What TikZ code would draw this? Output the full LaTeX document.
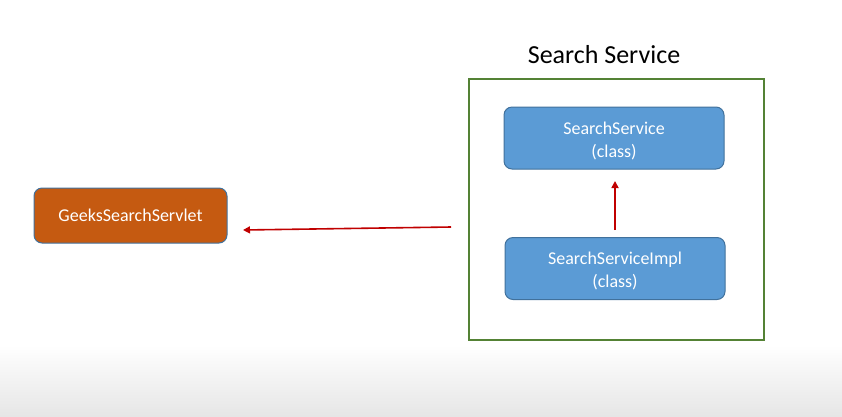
\documentclass[tikz,border=0pt]{standalone}
\usepackage{fontspec}
\setmainfont{Carlito}
\usetikzlibrary{arrows.meta}
\definecolor{servletfill}{HTML}{C55A11}
\definecolor{classfill}{HTML}{5B9BD5}
\definecolor{classborder}{HTML}{41719C}
\definecolor{framegreen}{HTML}{548235}
\definecolor{arrowred}{HTML}{C00000}
\definecolor{floorgray}{HTML}{E6E6E6}
\tikzset{
  servletbox/.style={draw=classborder, line width=1pt, fill=servletfill, rounded corners=8pt,
    minimum width=193pt, minimum height=55pt, text=white, font=\fontsize{18}{22}\selectfont, inner sep=0pt},
  classbox/.style={draw=classborder, line width=1pt, fill=classfill, rounded corners=8pt,
    minimum width=220pt, minimum height=62pt, text=white, font=\fontsize{18}{23}\selectfont,
    align=center, inner sep=0pt},
  frame/.style={draw=framegreen, line width=2.5pt},
  link/.style={draw=arrowred, line width=1.6pt, -{Triangle[length=7pt,width=7pt]}},
  titletext/.style={font=\fontsize{26}{30}\selectfont, text=black}
}
\begin{document}
\begin{tikzpicture}[x=1pt,y=-1pt]
\useasboundingbox (0,0) rectangle (842,416);
\shade[top color=white, bottom color=floorgray] (0,345) rectangle (842,416);
\node[frame, minimum width=295pt, minimum height=261pt, inner sep=0pt] (svc) at (616.5,209.5) {};
\node[titletext] (title) at (604,55) {Search Service};
\node[servletbox] (servlet) at (130.5,215.5) {GeeksSearchServlet};
\node[classbox] (ss) at (614,138) {};
\node[text=white, font=\fontsize{18}{23}\selectfont, align=center] (sstext) at (614,140.5) {SearchService\\(class)};
\node[classbox] (impl) at (615,268.5) {};
\node[text=white, font=\fontsize{18}{23}\selectfont, align=center] (impltext) at (615,271) {SearchServiceImpl\\(class)};
\coordinate (implout) at (615,230);
\coordinate (ssin) at (615,181);
\coordinate (svcout) at (451,227);
\coordinate (servin) at (243,230);
\draw[link] (implout) -- (ssin);
\draw[link] (svcout) -- (servin);
\end{tikzpicture}
\end{document}
